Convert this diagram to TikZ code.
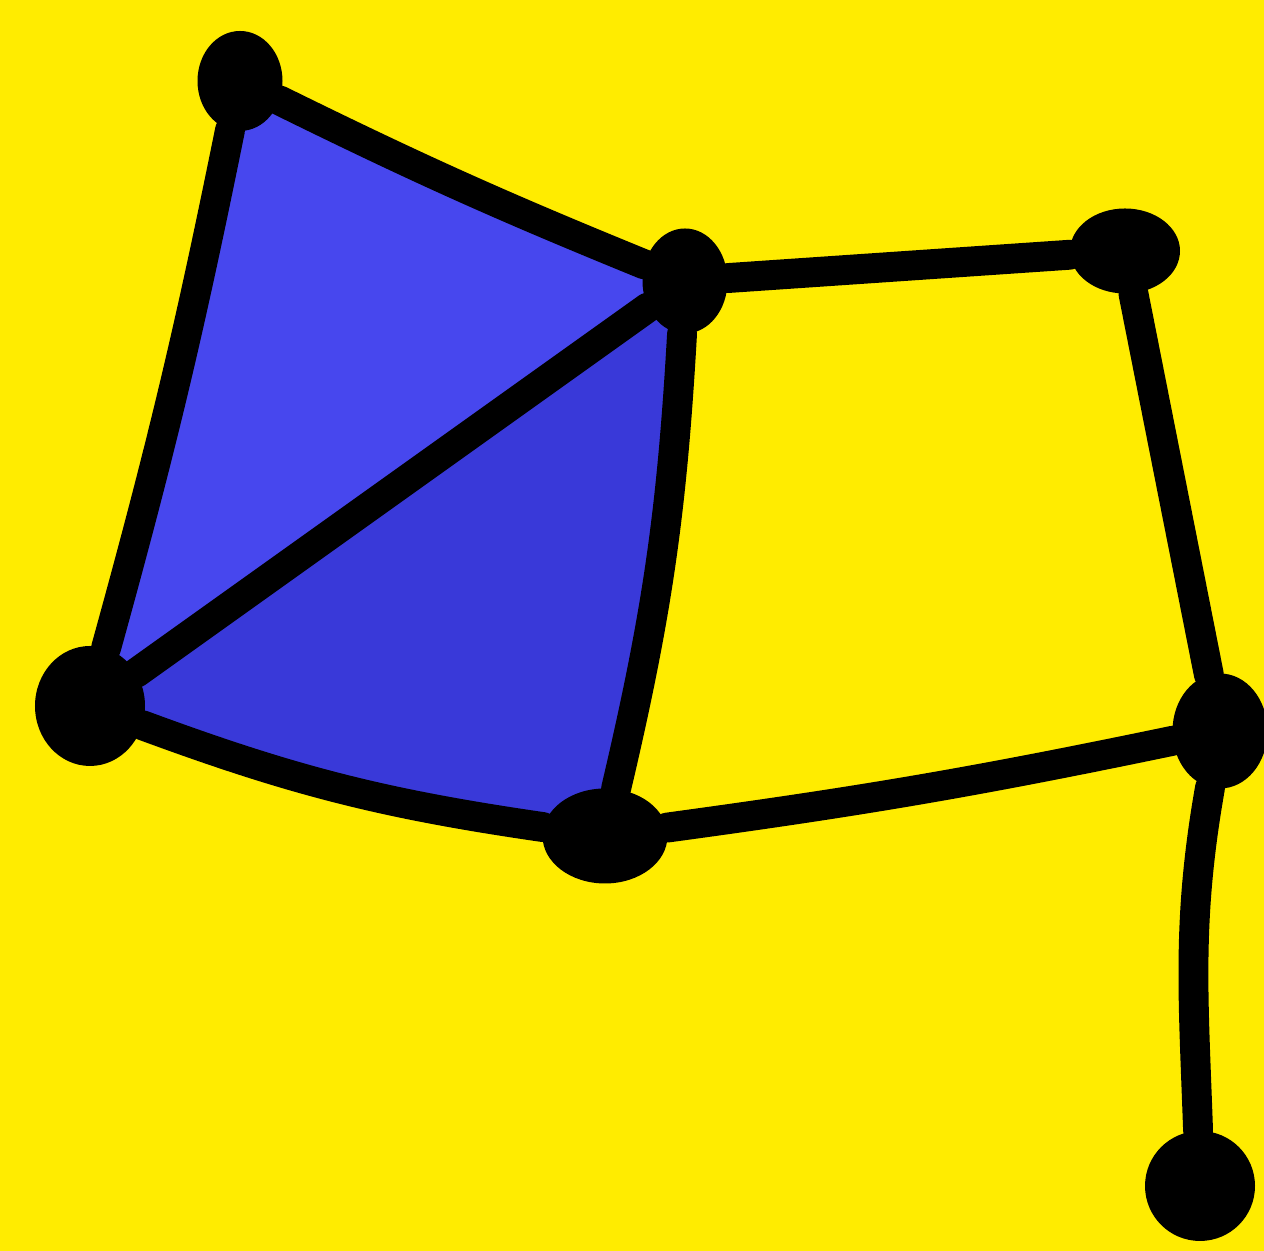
\documentclass[tikz,border=0pt]{standalone}
\usepackage{tikz}
\usetikzlibrary{arrows.meta, positioning, calc, shapes.geometric}

\definecolor{bgyellow}{RGB}{255,236,0}
\definecolor{lightblue}{RGB}{71,71,238}
\definecolor{darkblue}{RGB}{57,57,217}

\begin{document}
\begin{tikzpicture}[>=latex,
    edge/.style={black, line width=8.5pt, line cap=round, line join=round},
    blob/.style={ellipse, fill=black, inner sep=0pt}]
    % fundo amarelo
    \fill[bgyellow] (0, 0) rectangle (12.64, 12.51);
    \useasboundingbox (0, 0) rectangle (12.64, 12.51);

    \coordinate (pa) at (2.40, 11.70);
    \coordinate (pb) at (6.85, 9.70);
    \coordinate (pc) at (11.25, 10.00);
    \coordinate (pd) at (0.90, 5.45);
    \coordinate (pe) at (6.05, 4.15);
    \coordinate (pf) at (12.20, 5.20);
    \coordinate (pg) at (12.00, 0.65);

    % os dois triangulos azuis
    \fill[lightblue] (pa) to[bend right=2] (pb) -- (pd) to[bend right=2] (pa) -- cycle;
    \fill[darkblue] (pd) -- (pb) to[bend left=5] (pe) to[bend left=6] (pd) -- cycle;

    % vertices
    \node[blob, minimum width=0.85cm, minimum height=1.0cm] (a) at (pa) {};
    \node[blob, minimum width=0.85cm, minimum height=1.05cm] (b) at (pb) {};
    \node[blob, minimum width=1.1cm, minimum height=0.85cm] (c) at (pc) {};
    \node[blob, minimum width=1.1cm, minimum height=1.2cm] (d) at (pd) {};
    \node[blob, minimum width=1.25cm, minimum height=0.95cm] (e) at (pe) {};
    \node[blob, minimum width=0.95cm, minimum height=1.15cm] (f) at (pf) {};
    \node[blob, minimum width=1.1cm, minimum height=1.1cm] (g) at (pg) {};

    % arestas
    \draw[edge] (a) to[bend right=2] (b);
    \draw[edge] (a) to[bend left=2] (d);
    \draw[edge] (d) -- (b);
    \draw[edge] (b) to[bend left=5] (e);
    \draw[edge] (d) to[bend right=6] (e);
    \draw[edge] (b) -- (c);
    \draw[edge] (c) -- (f);
    \draw[edge] (e) to[bend right=2] (f);
    \draw[edge] (f) to[out=-100, in=92] (g);

\end{tikzpicture}
\end{document}
